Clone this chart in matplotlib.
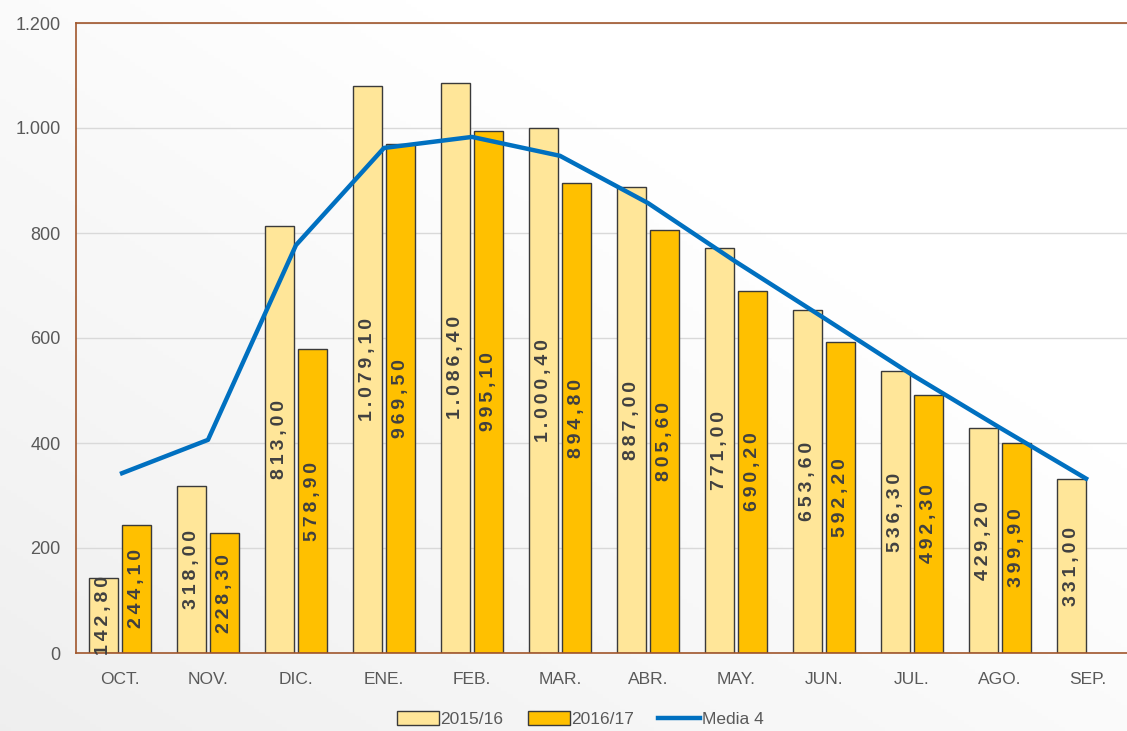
import numpy as np
import matplotlib.pyplot as plt
from matplotlib.patches import Patch
from matplotlib.lines import Line2D
from matplotlib.ticker import FuncFormatter

plt.rcParams['font.family'] = ['Liberation Sans', 'DejaVu Sans']

months = ['OCT.', 'NOV.', 'DIC.', 'ENE.', 'FEB.', 'MAR.', 'ABR.', 'MAY.',
          'JUN.', 'JUL.', 'AGO.', 'SEP.']
s1516 = [142.8, 318.0, 813.0, 1079.1, 1086.4, 1000.4, 887.0, 771.0,
         653.6, 536.3, 429.2, 331.0]
s1617 = [244.1, 228.3, 578.9, 969.5, 995.1, 894.8, 805.6, 690.2,
         592.2, 492.3, 399.9]
media4 = [341, 406, 777, 962, 983, 947, 857, 745, 638, 530, 429, 330]


def es_num(v, dec=2):
    s = f"{v:,.{dec}f}"
    return s.replace(',', 'X').replace('.', ',').replace('X', '.')


def spaced(s):
    # wide tracking like the original labels
    return '\u2009'.join(s)


fig = plt.figure(figsize=(11.27, 7.31), dpi=100)

# background gradient (light grey bottom-left -> white top-right)
bg = fig.add_axes([0, 0, 1, 1], zorder=-10)
gx, gy = np.meshgrid(np.linspace(0, 1, 200), np.linspace(0, 1, 200))
grad = np.clip((gx + gy) / 1.4, 0, 1)
bg.imshow(grad, cmap='Greys_r', vmin=-6.5, vmax=1.0, origin='lower',
          extent=[0, 1, 0, 1], aspect='auto')
bg.axis('off')

ax = fig.add_axes([76 / 1127, 78 / 731, 1056 / 1127, 630 / 731])
ax.patch.set_alpha(0)

x = np.arange(len(months))
w = 0.33
off = 0.19
c_light = '#ffe699'
c_dark = '#ffc000'
ax.bar(x - off, s1516, w, color=c_light, edgecolor='#3a3a3a', lw=1, zorder=2)
ax.bar(x[:len(s1617)] + off, s1617, w, color=c_dark, edgecolor='#3a3a3a', lw=1, zorder=2)
ax.plot(x, media4, color='#0070c0', lw=3.2, zorder=4, solid_capstyle='butt')

for xi, v in zip(x - off, s1516):
    ax.text(xi, v / 2, spaced(es_num(v)), rotation=90, ha='center', va='center',
            fontsize=14, fontweight='bold', color='#404040', zorder=3)
for xi, v in zip(x[:len(s1617)] + off, s1617):
    ax.text(xi, v / 2, spaced(es_num(v)), rotation=90, ha='center', va='center',
            fontsize=14, fontweight='bold', color='#404040', zorder=3)

ax.set_xlim(-0.5, 11.5)
ax.set_ylim(0, 1200)
ax.set_yticks(range(0, 1201, 200))
ax.yaxis.set_major_formatter(FuncFormatter(lambda v, p: es_num(v, 0)))
ax.set_xticks(x)
ax.set_xticklabels(months)
ax.grid(axis='y', color='#d9d9d9', lw=1, zorder=0)
ax.set_axisbelow(True)
ax.tick_params(axis='x', length=0, labelsize=12.5, colors='#595959', pad=14)
ax.tick_params(axis='y', length=0, labelsize=13, colors='#595959', pad=11)
for sp in ['left', 'bottom', 'top']:
    ax.spines[sp].set_color('#a0562c')
    ax.spines[sp].set_linewidth(1.2)
ax.spines['right'].set_visible(False)

handles = [Patch(facecolor=c_light, edgecolor='#3a3a3a', label='2015/16'),
           Patch(facecolor=c_dark, edgecolor='#3a3a3a', label='2016/17'),
           Line2D([0], [0], color='#0070c0', lw=3.2, label='Media 4')]
leg = fig.legend(handles=handles, loc='lower center', bbox_to_anchor=(0.515, -0.016),
                 ncol=3, frameon=False, fontsize=12.5, handlelength=2.4,
                 handleheight=0.8, columnspacing=1.4, handletextpad=0.1)
for t in leg.get_texts():
    t.set_color('#595959')

fig.savefig('out.png', dpi=100)
